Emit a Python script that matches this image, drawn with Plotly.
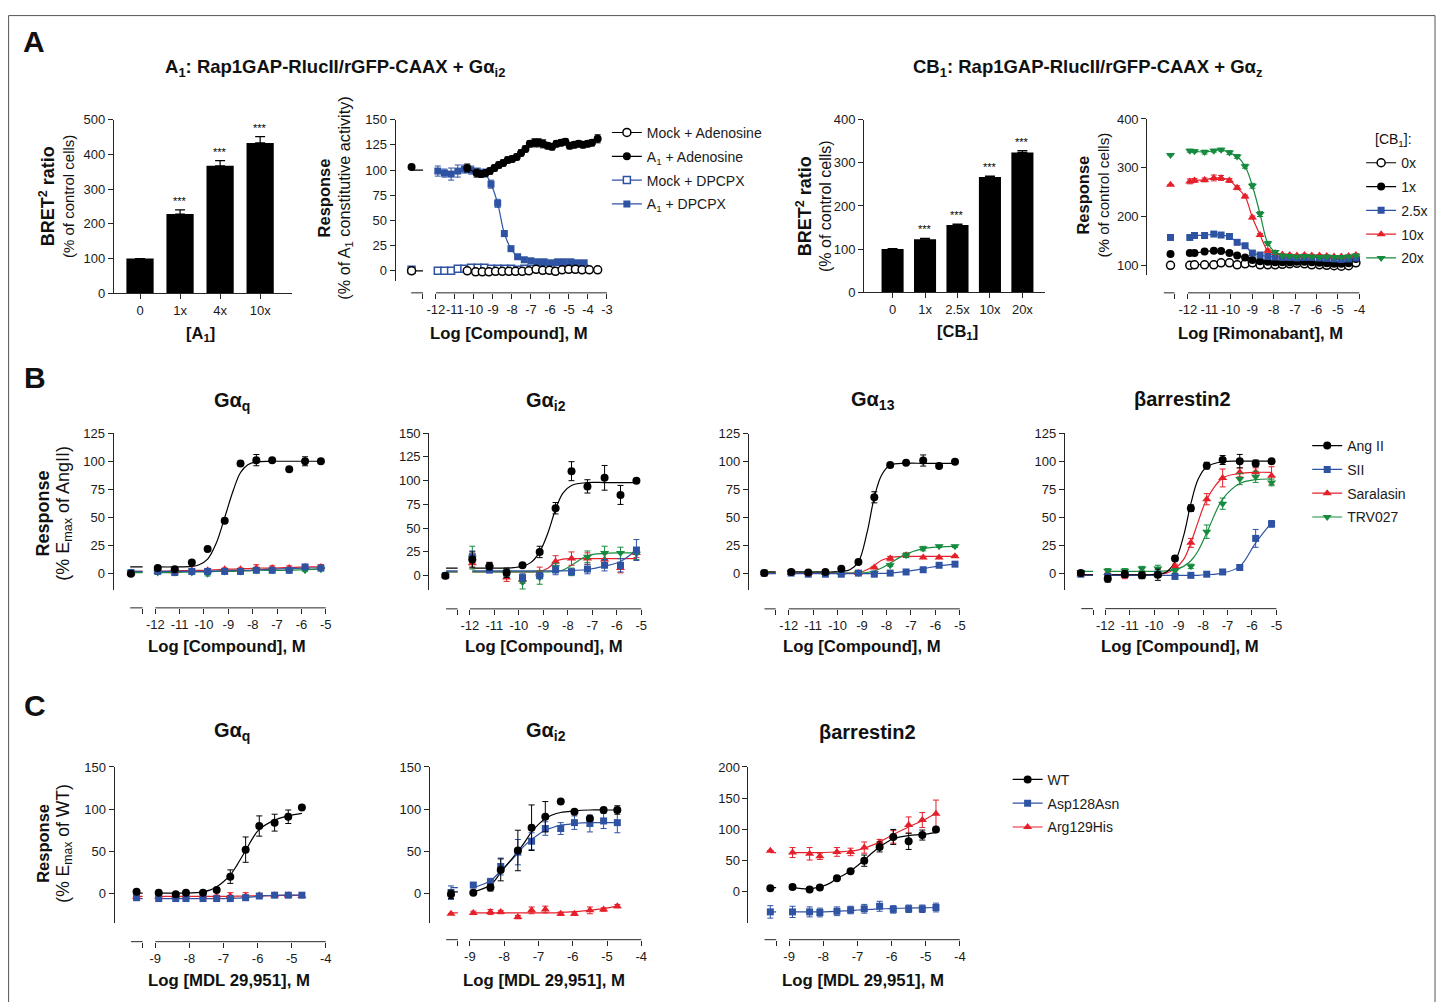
import plotly.graph_objects as go

W, H = 1447, 1002
FONT = "Liberation Sans, Arial, Helvetica, sans-serif"
BLACK = "#000000"
BLUE = "#2f53a3"
RED = "#e4212b"
GREEN = "#168b3f"
AXC = "#262626"

# ------------------------------------------------------------------ DATA
# Panel A, A1 receptor titration (bars)
a1_cats = ["0", "1x", "4x", "10x"]
a1_vals = [100, 228, 367, 433]
a1_err = [0, 12, 15, 18]
a1_stars = ["", "***", "***", "***"]

# Panel A, CB1 receptor titration (bars)
cb1_cats = ["0", "1x", "2.5x", "10x", "20x"]
cb1_vals = [100, 123, 156, 267, 324]
cb1_err = [1, 2, 2, 2, 4]
cb1_stars = ["", "***", "***", "***", "***"]

# Panel A, A1 dose-response
a2_ctrl_x = -13.28
ado_x = [-10.35, -9.86, -9.62, -9.39, -9.16, -8.92, -8.69, -8.46, -8.22, -7.99, -7.75, -7.52, -7.29, -7.06,
         -6.82, -6.59, -6.36, -6.12, -5.89, -5.66, -5.42, -5.19, -4.96, -4.72, -4.49, -4.26, -4.02, -3.79, -3.49]
a1_ado_y = [102, 97, 96, 97, 99, 102, 105, 107, 110, 111, 113, 117, 121, 126, 127, 127, 126, 124, 123, 126,
            127, 128, 124, 125, 126, 125, 126, 127, 131]
a1_ado_e = [4, 4, 3, 3, 3, 3, 3, 3, 3, 3, 3, 3, 3, 3, 4, 4, 4, 3, 3, 3, 3, 3, 3, 3, 3, 3, 3, 3, 4]
a1_ado_ctrl = 103
a1_ado_base = 100
mock_ado_x = [-10.35, -9.91, -9.56, -9.21, -8.86, -8.51, -8.16, -7.81, -7.46, -7.11, -6.73, -6.38, -6.03,
              -5.71, -5.36, -5.01, -4.66, -4.31, -3.93, -3.49]
mock_ado_y = [0, -1, -1, -1, -0.5, -0.5, -0.5, -0.5, -0.5, 0, 1.5, 0.5, 0.5, -0.5, 1, 1.5, 1.5, 1, 1, 1]
mock_ado_ctrl = 0
dpcpx_x = [-11.90, -11.55, -11.20, -10.85, -10.50, -10.15, -9.80, -9.45, -9.10, -8.75, -8.40, -8.05, -7.70,
           -7.35, -7.00, -6.65, -6.30, -5.95, -5.60, -5.25, -4.90, -4.55, -4.20]
a1_dpcpx_y = [99, 97, 96, 99, 101, 100, 98, 97, 86, 67, 37, 22, 14, 11, 10, 9, 9, 8, 9, 9, 9, 8, 8]
a1_dpcpx_e = [5, 4, 6, 6, 4, 4, 4, 4, 4, 4, 3, 2, 2, 2, 2, 2, 2, 2, 2, 2, 2, 2, 2]
mock_dpcpx_y = [0, 0, 0, 2, 2, 3, 3, 3, 2, 2, 2, 2, 1, 2, 2, 2, 2, 2, 2, 2, 2, 2, 2]
mock_dpcpx_ctrl = 1

# Panel A, CB1 rimonabant curves
a4_ctrl_x = -12.81
rimo_x = [-11.91, -11.69, -11.22, -10.79, -10.45, -10.06, -9.70, -9.33, -8.99, -8.63, -8.27, -7.93, -7.59,
          -7.25, -6.91, -6.56, -6.22, -5.86, -5.52, -5.18, -4.84, -4.50, -4.16]
cb_20x = [335, 334, 332, 335, 337, 331, 323, 303, 263, 205, 145, 127, 120, 119, 118, 119, 118, 117, 118, 117, 117, 118, 120]
cb_20x_e = [3, 3, 4, 3, 3, 4, 4, 4, 5, 5, 4, 3, 2, 2, 2, 2, 2, 2, 2, 2, 2, 2, 2]
cb_10x = [272, 274, 275, 279, 279, 274, 259, 241, 198, 162, 130, 125, 122, 121, 120, 121, 120, 120, 119, 118, 118, 119, 121]
cb_10x_e = [5, 4, 4, 6, 5, 4, 4, 3, 3, 3, 3, 2, 2, 2, 2, 2, 2, 2, 2, 2, 2, 2, 2]
cb_2_5x = [157, 161, 161, 164, 162, 159, 147, 140, 125, 121, 118, 117, 116, 116, 115, 116, 116, 115, 114, 113, 112, 113, 115]
cb_1x = [125, 125, 128, 130, 129, 125, 120, 116, 111, 108, 107, 106, 106, 106, 107, 107, 106, 105, 104, 103, 103, 104, 113]
cb_0x = [100, 101, 101, 101, 105, 105, 101, 103, 105, 101, 101, 101, 102, 103, 104, 103, 101, 101, 100, 99, 98, 99, 105]
cb_ctrl = {"0x": 100, "1x": 123, "2.5x": 157, "10x": 265, "20x": 326}

# Panel B (AT1R ligands)
b_ctrl_x = -13.0
b_x = [-11.9, -11.2, -10.5, -9.85, -9.15, -8.5, -7.85, -7.2, -6.5, -5.85, -5.2]
b_fit_x = [-11.9, -11.2, -10.5, -10.2, -9.85, -9.5, -9.15, -8.8, -8.5, -8.2, -7.85, -7.2, -6.5, -5.85, -5.2]

bq_ang = [5, 4, 10, 22, 47, 98, 101, 101, 93, 100, 100]
bq_ang_e = [1, 1, 1, 1, 1, 1, 5, 1, 1, 4, 0]
bq_sii = [2, 1, 2, 2, 2, 2, 3, 3, 3, 6, 5]
bq_sii_e = [1, 1, 1, 1, 1, 1, 1, 1, 1, 2, 1]
bq_sar = [2, 2, 3, 3, 4, 4, 5, 5, 5, 6, 6]
bq_sar_e = [1, 1, 1, 1, 1, 1, 3, 2, 2, 2, 2]
bq_trv = [1, 1, 1, 0, 2, 2, 3, 3, 3, 3, 4]
bq_trv_e = [1, 1, 1, 2, 1, 1, 1, 1, 1, 1, 1]
bq_ctrl = [0, 1, 1, 1]
bq_ang_fit = [6, 6, 6.5, 8, 13, 27, 50, 74, 90, 97, 99.5, 100, 100, 100, 100]
bq_sii_fit = [2, 2, 2, 2, 2, 2.5, 2.5, 3, 3, 3, 3.5, 4, 4.5, 5, 5]
bq_sar_fit = [2, 2.5, 3, 3, 3, 3.5, 4, 4, 4.5, 4.5, 5, 5, 5.5, 6, 6]
bq_trv_fit = [1, 1, 1.5, 1.5, 1.5, 2, 2, 2, 2.5, 2.5, 3, 3, 3, 3.5, 4]

bi_ang = [17, 10, 3, 11, 25, 71, 110, 94, 103, 85, 100]
bi_ang_e = [8, 4, 5, 2, 6, 6, 10, 7, 13, 10, 0]
bi_sii = [20, 6, 3, -2, 0, 6, 4, 7, 11, 11, 27]
bi_sii_e = [6, 3, 3, 4, 3, 5, 3, 5, 6, 7, 11]
bi_sar = [13, 9, -2, -4, 3, 15, 18, 18, 17, 8, 24]
bi_sar_e = [5, 5, 4, 4, 6, 6, 7, 6, 6, 5, 5]
bi_trv = [19, 9, 3, -7, -2, 9, 4, 20, 24, 24, 23]
bi_trv_e = [12, 4, 4, 7, 7, 4, 4, 6, 7, 6, 6]
bi_ctrl = [0, 0, 0, 0]
bi_ang_fit = [8, 8, 8, 8.5, 10, 14, 25, 46, 70, 87, 95, 98, 98, 98, 98]
bi_sii_fit = [5, 5, 5, 5, 5, 5, 5, 5, 5, 5, 5.5, 6.5, 10, 15, 27]
bi_sar_fit = [4, 4, 4, 4, 4, 4, 4.5, 8, 15, 17.5, 18, 18, 18, 18, 18]
bi_trv_fit = [4, 4, 4, 4, 4, 4, 4, 4, 4.5, 6, 11, 21, 23.5, 24, 24]

b13_ang = [1, 0.5, 1, 4, 10, 68, 97, 99, 101, 96, 100]
b13_ang_e = [1, 1, 1, 1, 1, 5, 1, 1, 5, 1, 0]
b13_sii = [0, -1, -1, -1, 0, -1, 0, 1, 3, 7, 8]
b13_sii_e = [1, 1, 1, 1, 1, 1, 1, 1, 1, 1, 1]
b13_sar = [0, 0, 0, 0, 0, 5, 13, 16, 14, 14, 15]
b13_sar_e = [1, 1, 1, 1, 1, 1, 2, 2, 1, 1, 1]
b13_trv = [1, 0, 0, 0, 0, 0, 7, 16, 22, 24, 24]
b13_trv_e = [1, 1, 1, 1, 1, 1, 1, 2, 2, 1, 1]
b13_ctrl = [0, 0, 0, 0]
b13_ang_fit = [1, 1, 1, 1, 1.5, 3, 10, 36, 68, 88, 97, 98.5, 98.5, 98.5, 98.5]
b13_sii_fit = [-0.5, -0.5, -0.5, -0.5, -0.5, -0.5, -0.5, -0.5, -0.5, -0.3, 0, 1.5, 4, 6.5, 8]
b13_sar_fit = [0, 0, 0, 0, 0, 0, 0.5, 3, 7, 11.5, 14, 15, 15, 15, 15]
b13_trv_fit = [0, 0, 0, 0, 0, 0, 0, 0.5, 2, 4.5, 9, 17, 22, 23.5, 24]

bb_ang = [-5, -1, -2, -1.5, 13, 58, 96, 101, 100, 98, 100]
bb_ang_e = [3, 3, 3, 5, 2, 3, 3, 4, 6, 3, 0]
bb_sii = [-3, -1, -2, -1, -3, -2, -1, 1, 5, 31, 44]
bb_sii_e = [2, 2, 2, 2, 2, 2, 2, 2, 2, 8, 3]
bb_sar = [0, -2, -2, -1, 6, 27, 66, 85, 90, 90, 87]
bb_sar_e = [2, 3, 2, 2, 2, 4, 5, 8, 4, 4, 8]
bb_trv = [2, 2, 4, 4, 2, 6, 37, 62, 84, 86, 81]
bb_trv_e = [2, 2, 2, 3, 2, 2, 6, 5, 5, 5, 3]
bb_ctrl = [0, -1, -1, 1]
bb_ang_fit = [-1.5, -1.5, -1.5, -1.5, -1, 1, 10, 33, 62, 84, 95, 99.5, 100, 100, 100]
bb_sii_fit = [-2, -2, -2, -2, -2, -2, -2, -2, -2, -2, -1.5, 0, 6, 27, 45]
bb_sar_fit = [-1.5, -1.5, -1.5, -1.5, -1, 0, 4, 12, 27, 46, 66, 85, 89, 90, 90]
bb_trv_fit = [1.5, 1.5, 1.5, 1.5, 1.5, 2, 3, 6, 11, 20, 36, 66, 80, 83.5, 84]

# Panel C (MDL 29,951)
c_ctrl_x = -9.55
c_x = [-8.9, -8.4, -8.1, -7.6, -7.2, -6.8, -6.35, -5.95, -5.5, -5.1, -4.7]
c_fit_x = [-8.9, -8.4, -8.1, -7.8, -7.6, -7.4, -7.2, -7.0, -6.8, -6.6, -6.35, -6.15, -5.95, -5.5, -5.1, -4.7]

cq_wt = [1, -1, 1, 1, 4, 20, 52, 80, 84, 91, 102]
cq_wt_e = [0, 0, 0, 0, 0, 8, 15, 12, 10, 8, 0]
cq_asp = [-6, -6, -6, -6, -6, -6, -5, -3, -2, -2, -2]
cq_asp_e = [2, 2, 2, 2, 2, 2, 2, 2, 2, 2, 2]
cq_arg = [-4, -3, -4, -4, -4, -3, -3, -2, -2, -2, -3]
cq_arg_e = [2, 4, 2, 2, 2, 4, 4, 2, 2, 2, 2]
cq_ctrl = [2, -5, -4]
cq_wt_fit = [0.5, 0.5, 0.5, 1, 2, 4, 8, 14, 22, 34, 51, 65, 76, 87, 92, 95]
cq_asp_fit = [-6, -6, -6, -6, -6, -6, -6, -6, -5.8, -5.5, -5, -4, -3, -2.2, -2, -2]
cq_arg_fit = [-3.5, -3.5, -3.5, -3.5, -3.5, -3.5, -3.5, -3.4, -3.3, -3.2, -3, -2.8, -2.6, -2.4, -2.3, -2.2]

ci_wt = [1, 7, 28, 51, 78, 91, 109, 97, 89, 99, 99]
ci_wt_e = [0, 4, 13, 24, 27, 18, 0, 0, 0, 0, 5]
ci_asp = [10, 14, 32, 49, 62, 77, 77, 84, 83, 86, 84]
ci_asp_e = [3, 4, 10, 15, 10, 8, 7, 8, 10, 9, 12]
ci_arg = [-23, -22, -22, -28, -20, -19, -24, -24, -20, -19, -15]
ci_arg_e = [2, 3, 2, 2, 4, 4, 2, 2, 4, 2, 2]
ci_ctrl = [-1, 1, -24]
ci_ctrl_e = [5, 8, 0]
ci_wt_fit = [2, 10, 25, 40, 50, 61, 73, 82, 89, 93, 96, 97, 98, 99, 99, 99]
ci_asp_fit = [7, 15, 27, 39, 48, 57, 64, 70, 75, 78, 81, 82, 83, 84, 84, 84]
ci_arg_fit = [-23, -23, -23, -23, -23, -23, -23, -23, -23, -23, -22.5, -22, -21.5, -20, -18, -15]

cb_wt = [8, 4, 7, 22, 33, 50, 72, 88, 81, 91, 100]
cb_wt_e = [3, 2, 3, 2, 2, 9, 8, 12, 13, 8, 3]
cb_asp = [-32, -32, -33, -31, -29, -27, -23, -28, -27, -27, -25]
cb_asp_e = [9, 8, 7, 7, 6, 7, 8, 6, 6, 6, 7]
cb_arg = [63, 61, 57, 64, 64, 71, 79, 88, 107, 115, 125]
cb_arg_e = [8, 10, 5, 7, 6, 9, 5, 10, 13, 12, 22]
cbb_ctrl = [6, -32, 66]
cbb_ctrl_e = [2, 10, 0]
cb_wt_fit = [7, 5, 8, 14, 22, 27, 34, 42, 51, 61, 72, 79, 85, 90, 92, 95]
cb_asp_fit = [-32, -32, -32, -31.5, -31, -30.5, -30, -29, -28.5, -28, -27, -27, -26.5, -26, -25.5, -25]
cb_arg_fit = [63, 63, 63, 63.5, 64, 64.5, 65.5, 67, 70, 74, 80, 86, 92, 104, 114, 126]

# ------------------------------------------------------------------ LAYOUT HELPERS
# positions below are given in target-picture pixels; convert to figure pixels
DX, SY, DY = 8.5, 0.9856, 14.5


def fxp(x):
    return x - DX


def fyp(y):
    return y / SY - DY


def px(x):
    return fxp(x) / W


def py(y):
    return 1 - fyp(y) / H


def lin(p, cal):
    pa, va, pb, vb = cal
    return va + (p - pa) * (vb - va) / (pb - pa)


def ref(n):
    return ("x", "y") if n == 1 else (f"x{n}", f"y{n}")


def akey(n):
    return ("xaxis", "yaxis") if n == 1 else (f"xaxis{n}", f"yaxis{n}")


fig = go.Figure()
layout = {}
shapes = []
annotations = []

TICKFONT = dict(family=FONT, size=13, color="#1a1a1a")


def bar_panel(n, cats, vals, err, stars, xdom, cat0, step, ydom, yrange, ytick):
    xk, yk = akey(n)
    xr, yr = ref(n)
    layout[xk] = dict(domain=[px(xdom[0]), px(xdom[1])],
                      range=[(xdom[0] - cat0) / step, (xdom[1] - cat0) / step],
                      tickvals=list(range(len(cats))), ticktext=cats, ticks="outside", ticklen=5,
                      tickcolor=AXC, showline=True, linecolor=AXC, linewidth=1, showgrid=False,
                      zeroline=False, anchor=yr, tickfont=TICKFONT, tickangle=0)
    layout[yk] = dict(domain=[py(ydom[1]), py(ydom[0])], range=yrange, tickvals=ytick,
                      ticks="outside", ticklen=5, tickcolor=AXC, showline=True, linecolor=AXC,
                      linewidth=1, showgrid=False, zeroline=False, anchor=xr, tickfont=TICKFONT)
    fig.add_trace(go.Bar(x=list(range(len(cats))), y=vals, width=0.68, marker=dict(color=BLACK, line=dict(width=0)),
                         error_y=dict(type="data", array=err, arrayminus=[0] * len(err), symmetric=False,
                                      color=BLACK, thickness=1.2, width=5),
                         xaxis=xr, yaxis=yr, showlegend=False))
    for i, s in enumerate(stars):
        if s:
            annotations.append(dict(x=i, y=vals[i] + err[i], xref=xr, yref=yr, text=s, showarrow=False,
                                    yanchor="bottom", yshift=1, font=dict(family=FONT, size=11, color=BLACK)))


def dose_panel(n, xdom, xcal, ydom, ycal, yline, xline, seg, main, xticks, yticks):
    xk, yk = akey(n)
    xr, yr = ref(n)
    layout[xk] = dict(domain=[px(xdom[0]), px(xdom[1])], range=[lin(xdom[0], xcal), lin(xdom[1], xcal)],
                      tickvals=[seg[1]] + xticks, ticktext=[""] + [str(t) for t in xticks],
                      ticks="outside", ticklen=5, tickcolor=AXC, showline=False, showgrid=False,
                      zeroline=False, anchor="free", position=py(xline), tickfont=TICKFONT, tickangle=0)
    layout[yk] = dict(domain=[py(ydom[1]), py(ydom[0])], range=[lin(ydom[1], ycal), lin(ydom[0], ycal)],
                      tickvals=yticks, ticks="outside", ticklen=5, tickcolor=AXC, showline=True,
                      linecolor=AXC, linewidth=1, showgrid=False, zeroline=False, anchor="free",
                      position=px(yline), tickfont=TICKFONT)
    for a, b in (seg, main):
        shapes.append(dict(type="line", xref=xr, yref="paper", x0=a, x1=b, y0=py(xline), y1=py(xline),
                           line=dict(color=AXC, width=1)))


def pts(n, x, y, e, color, symbol, size=8, open_=False):
    xr, yr = ref(n)
    mk = dict(color="white" if open_ else color, symbol=symbol, size=size,
              line=dict(color=color, width=1.5 if open_ else 0))
    fig.add_trace(go.Scatter(x=x, y=y, mode="markers", marker=mk, cliponaxis=False,
                             error_y=dict(type="data", array=e, color=color, thickness=1, width=3,
                                          visible=e is not None),
                             xaxis=xr, yaxis=yr, showlegend=False, hoverinfo="skip"))


def curve(n, x, y, color, width=1.2, shape="spline"):
    xr, yr = ref(n)
    fig.add_trace(go.Scatter(x=x, y=y, mode="lines", line=dict(color=color, width=width, shape=shape, smoothing=1),
                             xaxis=xr, yaxis=yr, showlegend=False, hoverinfo="skip", cliponaxis=False))


def stub(n, x0, x1, level, color):
    # baseline of the fit drawn over the short control segment of the broken axis
    curve(n, [x0, x1], [level, level], color, shape="linear")


def legend_item(name, color, symbol, legend, open_=False, size=8):
    mk = dict(color="white" if open_ else color, symbol=symbol, size=size,
              line=dict(color=color, width=1.5 if open_ else 0))
    fig.add_trace(go.Scatter(x=[None], y=[None], mode="lines+markers", name=name, marker=mk,
                             line=dict(color=color, width=1.2), legend=legend, showlegend=True,
                             legendgroup=legend + name, xaxis="x", yaxis="y"))


# ------------------------------------------------------------------ PANEL A
bar_panel(1, a1_cats, a1_vals, a1_err, a1_stars, (114.5, 293), 140.7, 40.1, (119, 292.7), [0, 500],
          [0, 100, 200, 300, 400, 500])
bar_panel(3, cb1_cats, cb1_vals, cb1_err, cb1_stars, (865.7, 1047), 894.3, 32.5, (119, 291.7), [0, 400],
          [0, 100, 200, 300, 400])

A2_SEG = (-13.3, -12.68)
dose_panel(2, (402, 612), (437, -12, 608.3, -3), (119, 280), (119, 150, 270.3, 0), 395.7, 292.3,
           A2_SEG, (-12, -3), list(range(-12, -2)), [0, 25, 50, 75, 100, 125, 150])
stub(2, a2_ctrl_x, A2_SEG[1], mock_ado_ctrl, BLACK)
stub(2, a2_ctrl_x, A2_SEG[1], a1_ado_base, BLACK)
curve(2, mock_ado_x, mock_ado_y, BLACK)
curve(2, dpcpx_x, mock_dpcpx_y, BLUE)
pts(2, [a2_ctrl_x] + dpcpx_x, [mock_dpcpx_ctrl] + mock_dpcpx_y, None, BLUE, "square", 7, open_=True)
curve(2, dpcpx_x, a1_dpcpx_y, BLUE)
pts(2, dpcpx_x, a1_dpcpx_y, a1_dpcpx_e, BLUE, "square", 7)
pts(2, [a2_ctrl_x] + mock_ado_x, [mock_ado_ctrl] + mock_ado_y, None, BLACK, "circle", 8, open_=True)
curve(2, ado_x, a1_ado_y, BLACK)
pts(2, [a2_ctrl_x] + ado_x, [a1_ado_ctrl] + a1_ado_y, [0] + a1_ado_e, BLACK, "circle", 8)

dose_panel(4, (1158, 1366), (1190, -12, 1361.7, -4), (118.3, 274), (118.3, 400, 264.7, 100), 1148.3, 292.3,
           (-13.12, -12.62), (-12, -4), list(range(-12, -3)), [100, 200, 300, 400])
cb_series = [("0x", cb_0x, None, BLACK, "circle", True, 8),
             ("1x", cb_1x, None, BLACK, "circle", False, 8),
             ("2.5x", cb_2_5x, None, BLUE, "square", False, 7),
             ("10x", cb_10x, cb_10x_e, RED, "triangle-up", False, 8),
             ("20x", cb_20x, cb_20x_e, GREEN, "triangle-down", False, 8)]
for name, ys, es, col, sym, op, sz in cb_series:
    curve(4, rimo_x, ys, col)
    pts(4, [a4_ctrl_x] + rimo_x, [cb_ctrl[name]] + ys, None if es is None else [0] + es, col, sym, sz, open_=op)

# ------------------------------------------------------------------ PANEL B
B_SPECS = [
    (5, (125, 330), (156, -12, 326.7, -5), (432.7, 590), (432.7, 125, 573.3, 0), 113.3, 607.5, (-13.03, -12.52),
     [0, 25, 50, 75, 100, 125]),
    (6, (440, 646), (471, -12, 642.7, -5), (432.7, 590), (432.7, 150, 575.3, 0), 429.3, 608.5, (-12.97, -12.5),
     [0, 25, 50, 75, 100, 125, 150]),
    (7, (760, 965), (790.3, -12, 961.7, -5), (433.3, 590), (433.3, 125, 572.7, 0), 749.3, 608.5, (-12.99, -12.53),
     [0, 25, 50, 75, 100, 125]),
    (8, (1077, 1282), (1107.3, -12, 1278.7, -5), (432.7, 589.3), (432.7, 125, 572.7, 0), 1065.7, 608.3,
     (-12.98, -12.5), [0, 25, 50, 75, 100, 125]),
]
B_DATA = [
    (bq_ang, bq_ang_e, bq_ang_fit, bq_sii, bq_sii_e, bq_sii_fit, bq_sar, bq_sar_e, bq_sar_fit, bq_trv, bq_trv_e, bq_trv_fit, bq_ctrl),
    (bi_ang, bi_ang_e, bi_ang_fit, bi_sii, bi_sii_e, bi_sii_fit, bi_sar, bi_sar_e, bi_sar_fit, bi_trv, bi_trv_e, bi_trv_fit, bi_ctrl),
    (b13_ang, b13_ang_e, b13_ang_fit, b13_sii, b13_sii_e, b13_sii_fit, b13_sar, b13_sar_e, b13_sar_fit, b13_trv, b13_trv_e, b13_trv_fit, b13_ctrl),
    (bb_ang, bb_ang_e, bb_ang_fit, bb_sii, bb_sii_e, bb_sii_fit, bb_sar, bb_sar_e, bb_sar_fit, bb_trv, bb_trv_e, bb_trv_fit, bb_ctrl),
]
for spec, d in zip(B_SPECS, B_DATA):
    n, xdom, xcal, ydom, ycal, yline, xline, seg, yt = spec
    dose_panel(n, xdom, xcal, ydom, ycal, yline, xline, seg, (-12, -5), list(range(-12, -4)), yt)
    ang, ange, angf, sii, siie, siif, sar, sare, sarf, trv, trve, trvf, ctrl = d
    series = ((sar, sare, sarf, RED, "triangle-up", 8, ctrl[2]),
              (trv, trve, trvf, GREEN, "triangle-down", 8, ctrl[3]),
              (sii, siie, siif, BLUE, "square", 7, ctrl[1]),
              (ang, ange, angf, BLACK, "circle", 8, ctrl[0]))
    for ys, es, fs, col, sym, sz, c in series:
        stub(n, seg[0], seg[1], fs[0], col)
        curve(n, b_fit_x, fs, col)
    for ys, es, fs, col, sym, sz, c in series:
        pts(n, [b_ctrl_x] + b_x, [c] + ys, [0] + es, col, sym, sz)

# ------------------------------------------------------------------ PANEL C
C_SPECS = [
    (9, (126, 330), (156, -9, 326.7, -4), (766.7, 923.3), (766.7, 150, 893.3, 0), 114.3, 941.5, (-9.71, -9.37),
     [0, 50, 100, 150]),
    (10, (441, 646), (471, -9, 642.7, -4), (766.7, 923.3), (766.7, 150, 893.3, 0), 430, 939.5, (-9.69, -9.35),
     [0, 50, 100, 150]),
    (11, (760, 965), (790.7, -9, 961.7, -4), (766.7, 923.3), (766.7, 200, 891.7, 0), 749, 939.5, (-9.72, -9.38),
     [0, 50, 100, 150, 200]),
]
C_DATA = [
    (cq_wt, cq_wt_e, cq_wt_fit, cq_asp, cq_asp_e, cq_asp_fit, cq_arg, cq_arg_e, cq_arg_fit, cq_ctrl, [0, 0, 0]),
    (ci_wt, ci_wt_e, ci_wt_fit, ci_asp, ci_asp_e, ci_asp_fit, ci_arg, ci_arg_e, ci_arg_fit, ci_ctrl, ci_ctrl_e),
    (cb_wt, cb_wt_e, cb_wt_fit, cb_asp, cb_asp_e, cb_asp_fit, cb_arg, cb_arg_e, cb_arg_fit, cbb_ctrl, cbb_ctrl_e),
]
for spec, d in zip(C_SPECS, C_DATA):
    n, xdom, xcal, ydom, ycal, yline, xline, seg, yt = spec
    dose_panel(n, xdom, xcal, ydom, ycal, yline, xline, seg, (-9, -4), list(range(-9, -3)), yt)
    wt, wte, wtf, asp, aspe, aspf, arg, arge, argf, ctrl, ctrle = d
    series = ((arg, arge, argf, RED, "triangle-up", 8, ctrl[2], ctrle[2]),
              (asp, aspe, aspf, BLUE, "square", 7, ctrl[1], ctrle[1]),
              (wt, wte, wtf, BLACK, "circle", 8, ctrl[0], ctrle[0]))
    for ys, es, fs, col, sym, sz, c, ce in series:
        stub(n, c_ctrl_x, seg[1], fs[0], col)
        curve(n, c_fit_x, fs, col)
    for ys, es, fs, col, sym, sz, c, ce in series:
        pts(n, [c_ctrl_x] + c_x, [c] + ys, [ce] + es, col, sym, sz)

# ------------------------------------------------------------------ LEGENDS
legend_item("Mock + Adenosine", BLACK, "circle", "legend", open_=True)
legend_item("A<sub>1</sub> + Adenosine", BLACK, "circle", "legend")
legend_item("Mock + DPCPX", BLUE, "square", "legend", open_=True, size=7)
legend_item("A<sub>1</sub> + DPCPX", BLUE, "square", "legend", size=7)
for name, ys, es, col, sym, op, sz in cb_series:
    legend_item(name, col, sym, "legend2", open_=op, size=sz)
legend_item("Ang II", BLACK, "circle", "legend3")
legend_item("SII", BLUE, "square", "legend3", size=7)
legend_item("Saralasin", RED, "triangle-up", "legend3")
legend_item("TRV027", GREEN, "triangle-down", "legend3")
legend_item("WT", BLACK, "circle", "legend4")
legend_item("Asp128Asn", BLUE, "square", "legend4", size=7)
legend_item("Arg129His", RED, "triangle-up", "legend4")

LEGFONT = dict(family=FONT, size=14, color="#1a1a1a")


def leg(text_x, row1_y):
    return dict(x=(fxp(text_x) - 38.5) / W, y=1 - (fyp(row1_y) - 15.7) / H, xanchor="left", yanchor="top",
                font=LEGFONT, bgcolor="rgba(0,0,0,0)", borderwidth=0, itemwidth=30, traceorder="grouped",
                tracegroupgap=2.6, itemclick=False)


layout["legend"] = leg(646.7, 131.7)
layout["legend2"] = leg(1402, 162)
layout["legend3"] = leg(1348, 445)
layout["legend4"] = leg(1048, 779)


# ------------------------------------------------------------------ TEXT
def txt(x, y, s, size=15, xanchor="center", angle=0, yanchor="middle"):
    annotations.append(dict(x=px(x), y=py(y), xref="paper", yref="paper", text=s, showarrow=False,
                            xanchor=xanchor, yanchor=yanchor, textangle=angle,
                            font=dict(family=FONT, size=size, color="#111111")))


def ylab(x, y, bold, normal, bsize, nsize):
    s = f'<span style="font-size:{bsize}px"><b>{bold}</b></span><br><span style="font-size:{nsize}px">{normal}</span>'
    txt(x, y, s, 15, angle=-90)


txt(35, 41, "<b>A</b>", 30)
txt(36, 377, "<b>B</b>", 30)
txt(36, 705, "<b>C</b>", 30)
txt(336, 67, "<b>A<sub>1</sub>: Rap1GAP-RlucII/rGFP-CAAX + Gα<sub>i2</sub></b>", 18.5)
txt(1089, 67, "<b>CB<sub>1</sub>: Rap1GAP-RlucII/rGFP-CAAX + Gα<sub>z</sub></b>", 18.5)

ylab(57, 196, "BRET<sup>2</sup> ratio", "(% of control cells)", 18, 15)
ylab(336, 198, "Response", "(% of A<sub>1</sub> constitutive activity)", 16.5, 16.2)
ylab(815, 205, "BRET<sup>2</sup> ratio", "(% of control cells)", 18, 16)
ylab(1095, 194, "Response", "(% of control cells)", 16.5, 15.2)
ylab(55, 513, "Response", "(% E<sub>max</sub> of AngII)", 18, 18)
ylab(55, 843, "Response", "(% E<sub>max</sub> of WT)", 16.5, 17.5)

txt(201, 333, "<b>[A<sub>1</sub>]</b>", 16.5)
txt(510, 333, "<b>Log [Compound], M</b>", 16.7)
txt(959, 331, "<b>[CB<sub>1</sub>]</b>", 16.5)
txt(1263, 333, "<b>Log [Rimonabant], M</b>", 16.6)
txt(1375, 139, "[CB<sub>1</sub>]:", 14, "left")
for xc in (228, 545, 864, 1182):
    txt(xc, 646, "<b>Log [Compound], M</b>", 16.7)
for xc in (230, 545, 865):
    txt(xc, 980, "<b>Log [MDL 29,951], M</b>", 16.8)

txt(233, 401, "<b>Gα<sub>q</sub></b>", 20)
txt(547, 401, "<b>Gα<sub>i2</sub></b>", 20)
txt(875, 400, "<b>Gα<sub>13</sub></b>", 20)
txt(1185, 399, "<b>βarrestin2</b>", 20)
txt(233, 731, "<b>Gα<sub>q</sub></b>", 20)
txt(547, 731, "<b>Gα<sub>i2</sub></b>", 20)
txt(869, 732, "<b>βarrestin2</b>", 20)

# figure border
shapes.append(dict(type="rect", xref="paper", yref="paper", x0=0.6 / W, x1=px(1437.5), y0=py(1030),
                   y1=1 - 0.6 / H, line=dict(color="#555555", width=1), fillcolor="rgba(0,0,0,0)", layer="below"))

layout.update(dict(width=W, height=H, margin=dict(l=0, r=0, t=0, b=0), paper_bgcolor="white",
                   plot_bgcolor="rgba(0,0,0,0)", font=dict(family=FONT, size=13, color="#111111"),
                   shapes=shapes, annotations=annotations, hovermode=False))
fig.update_layout(**layout)
fig.write_html("out.html")
